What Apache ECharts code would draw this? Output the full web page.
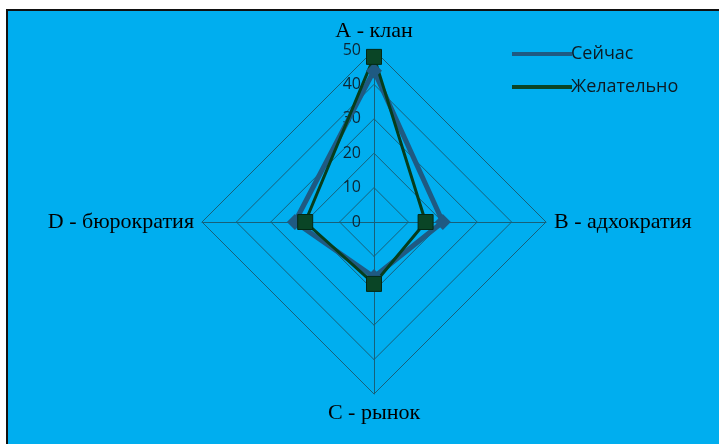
<!DOCTYPE html>
<html>
<head>
<meta charset="utf-8">
<script src="https://cdn.jsdelivr.net/npm/echarts@6/dist/echarts.min.js"></script>
<style>
  html, body { margin: 0; padding: 0; background: #fff; }
  #chart { width: 719px; height: 444px; }
</style>
</head>
<body>
<div id="chart"></div>
<script>
// Оси (типы культуры) и значения
const indicatorNames = ['A - клан', 'D - бюрократия', 'C - рынок', 'B - адхократия'];
const seriesNames = ['Сейчас', 'Желательно'];
const nowValues = [44, 23, 16, 20];
const wishValues = [48, 20, 18, 15];
const tickValues = [0, 10, 20, 30, 40, 50];

const chart = echarts.init(document.getElementById('chart'));

const cx = 374, cy = 222, R = 172;
const lineCol = '#17607a';

const option = {
    backgroundColor: '#ffffff',
    animation: false,
    graphic: [{
        type: 'rect',
        shape: { x: 7, y: 10, width: 720, height: 440 },
        style: { fill: '#00aeef', stroke: '#111', lineWidth: 2 },
        z: -10
    }],
    legend: {
        orient: 'vertical',
        left: 507,
        top: 40,
        itemWidth: 60,
        itemHeight: 4,
        itemGap: 15,
        icon: 'rect',
        itemStyle: { borderWidth: 0 },
        data: seriesNames,
        textStyle: { fontFamily: 'Open Sans', fontSize: 18, color: '#0d1a22', padding: [0, 0, 0, -6] }
    },
    radar: {
        center: [cx, cy],
        radius: R,
        startAngle: 90,
        shape: 'polygon',
        splitNumber: 5,
        indicator: indicatorNames.map(n => ({ name: n, max: 50, min: 0 })),
        axisName: { fontFamily: 'Liberation Serif', fontSize: 22, color: '#000' },
        nameGap: 8,
        axisLine: { lineStyle: { color: lineCol, width: 1 } },
        splitLine: { lineStyle: { color: lineCol, width: 1 } },
        splitArea: { show: false },
        axisLabel: { show: false }
    },
    // шкала значений вдоль верхней оси
    grid: { left: cx, top: cy - R, width: 1, height: R },
    xAxis: { type: 'value', show: false },
    yAxis: {
        type: 'value', min: 0, max: 50, interval: 10,
        axisLine: { show: false }, axisTick: { show: false }, splitLine: { show: false },
        axisLabel: {
            margin: 13, fontFamily: 'Open Sans', fontSize: 16, color: '#0d2533',
            formatter: v => tickValues.includes(v) ? String(v) : ''
        }
    },
    series: [
        {
            type: 'radar',
            data: [
                {
                    name: seriesNames[0], value: nowValues,
                    symbol: 'diamond', symbolSize: 16,
                    lineStyle: { color: '#1f5a82', width: 5 },
                    itemStyle: { color: '#1f5a82' }
                },
                {
                    name: seriesNames[1], value: wishValues,
                    symbol: 'rect', symbolSize: 15,
                    lineStyle: { color: '#063d1c', width: 3 },
                    itemStyle: { color: '#0a4526', borderColor: '#032814', borderWidth: 1 }
                }
            ]
        }
    ]
};

chart.setOption(option);
</script>
</body>
</html>
